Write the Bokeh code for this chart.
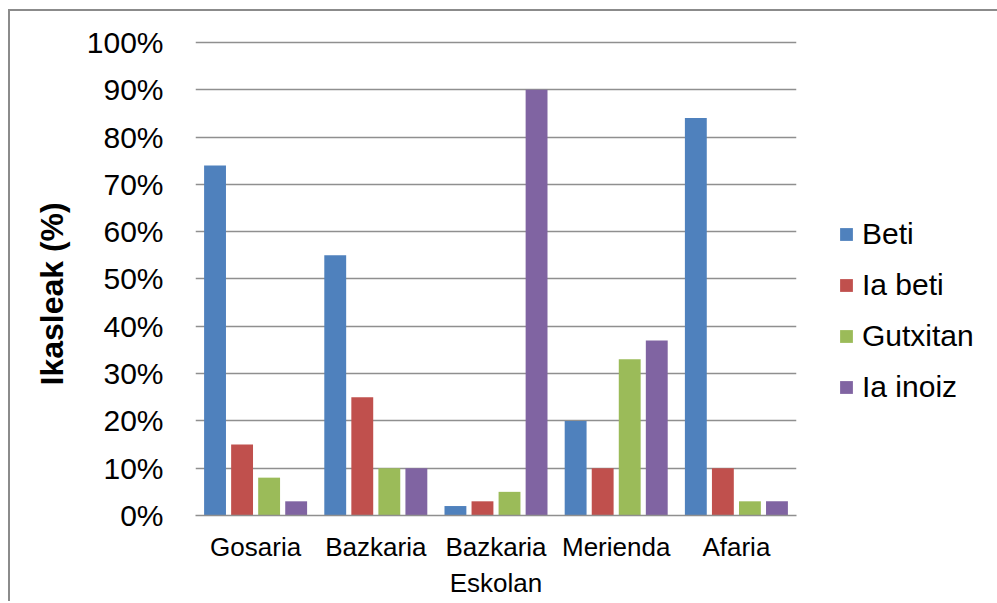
from bokeh.plotting import figure
from bokeh.models import (ColumnDataSource, FactorRange, Range1d, Legend, LegendItem,
                          PrintfTickFormatter, SingleIntervalTicker, Title)
from bokeh.transform import dodge
from bokeh.embed import file_html
from bokeh.resources import INLINE

# Meals and answer shares (% of students)
meals = ["Gosaria", "Bazkaria", "Bazkaria\nEskolan", "Merienda", "Afaria"]
series_names = ["Beti", "Ia beti", "Gutxitan", "Ia inoiz"]
beti = [74, 55, 2, 20, 84]
ia_beti = [15, 25, 3, 10, 10]
gutxitan = [8, 10, 5, 33, 3]
ia_inoiz = [3, 10, 90, 37, 3]
colors = ["#4F81BD", "#C0504D", "#9BBB59", "#8064A2"]

source = ColumnDataSource(data=dict(meal=meals, beti=beti, ia_beti=ia_beti,
                                    gutxitan=gutxitan, ia_inoiz=ia_inoiz))
columns = ["beti", "ia_beti", "gutxitan", "ia_inoiz"]

FONT = "Liberation Sans"
GRID = "#8f8f8f"
FRAME_W, FRAME_H = 601, 475

p = figure(x_range=FactorRange(*meals, range_padding=0),
           y_range=Range1d(0, 100.4),
           frame_width=FRAME_W, frame_height=FRAME_H,
           min_border_left=185, min_border_right=0,
           min_border_top=29, min_border_bottom=86,
           output_backend="svg", toolbar_location=None,
           background_fill_color="white", border_fill_color="white")
p.outline_line_color = None
p.margin = (9, 0, 0, 8)
p.styles = {"border-top": "2px solid #8b8b8b", "border-left": "2px solid #8b8b8b"}

step = 0.225
offsets = [-1.5 * step, -0.5 * step, 0.5 * step, 1.5 * step]
renderers = []
for col, off, color in zip(columns, offsets, colors):
    r = p.vbar(x=dodge("meal", off, range=p.x_range), top=col, width=0.182,
               source=source, fill_color=color, line_color=None)
    renderers.append(r)

# y axis
p.yaxis.ticker = SingleIntervalTicker(interval=10)
p.yaxis.formatter = PrintfTickFormatter(format="%d%%")
p.yaxis.axis_line_color = None
p.yaxis.major_tick_line_color = None
p.yaxis.minor_tick_line_color = None
p.yaxis.major_tick_out = 0
p.yaxis.major_label_standoff = 28
p.yaxis.major_label_text_font = FONT
p.yaxis.major_label_text_font_size = "30px"
p.yaxis.major_label_text_color = "black"

# vertical axis title, set slightly below the plot centre
ytitle = Title(text="Ikasleak (%)", align="left", offset=130, standoff=27,
               text_font=FONT, text_font_size="32px", text_font_style="bold",
               text_color="black")
p.add_layout(ytitle, "left")

# x axis
p.xaxis.axis_line_color = GRID
p.xaxis.axis_line_width = 1.5
p.xaxis.major_tick_line_color = None
p.xaxis.major_tick_out = 0
p.xaxis.major_label_standoff = 16
p.xaxis.major_label_text_font = FONT
p.xaxis.major_label_text_font_size = "26px"
p.xaxis.major_label_text_color = "black"

# grid
p.xgrid.grid_line_color = None
p.ygrid.grid_line_color = GRID
p.ygrid.grid_line_width = 1.5

legend = Legend(items=[LegendItem(label=n, renderers=[r]) for n, r in zip(series_names, renderers)],
                location=(42, 111), padding=0, margin=0, border_line_color=None,
                background_fill_alpha=0, glyph_width=16, glyph_height=16,
                label_height=34, spacing=17, label_standoff=8,
                label_text_font=FONT, label_text_font_size="30px", label_text_color="black")
p.add_layout(legend, "right")

open("out.html", "w").write(file_html(p, INLINE))
